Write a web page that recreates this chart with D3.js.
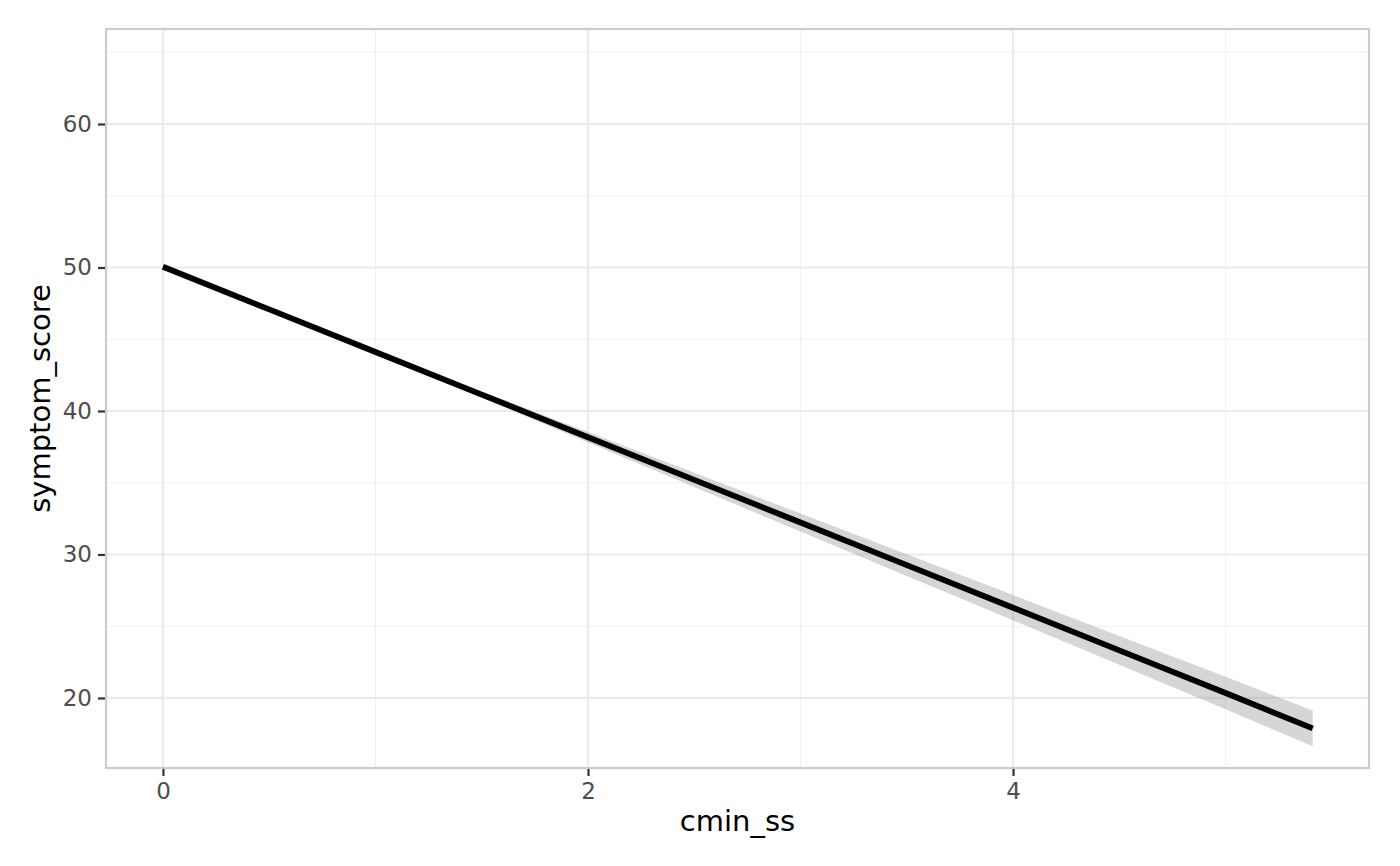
<!DOCTYPE html>
<html>
<head>
<meta charset="utf-8">
<script src="https://cdn.jsdelivr.net/npm/d3@7"></script>
<style>
html,body{margin:0;padding:0;background:#fff;}
svg{display:block;font-family:"DejaVu Sans",sans-serif;}
</style>
</head>
<body>
<svg id="chart" width="1400" height="866"></svg>
<script>
// Data
const cminSS = [0, 0.5, 1, 1.5, 2, 2.5, 3, 3.5, 4, 4.5, 5, 5.41];
const fitScore = [50.05, 47.08, 44.11, 41.14, 38.17, 35.20, 32.23, 29.26, 26.29, 23.32, 20.35, 17.88];
const lowerScore = [49.90, 46.98, 43.99, 40.92, 37.81, 34.70, 31.60, 28.50, 25.41, 22.32, 19.22, 16.63];
const upperScore = [50.20, 47.18, 44.23, 41.36, 38.53, 35.70, 32.86, 30.02, 27.17, 24.32, 21.48, 19.13];
const xTicks = [0, 2, 4];
const xMinor = [1, 3, 5];
const yTicks = [20, 30, 40, 50, 60];
const yMinor = [25, 35, 45, 55, 65];
const xTitle = "cmin_ss";
const yTitle = "symptom_score";

const svg = d3.select("#chart");
const m = {left: 106, right: 1400 - 1369, top: 29, bottom: 866 - 768};
const W = 1400, H = 866;

const x = d3.scaleLinear().domain([-0.268, 5.675]).range([m.left, W - m.right]);
const y = d3.scaleLinear().domain([15.12, 66.62]).range([H - m.bottom, m.top]);

const data = cminSS.map((v, i) => ({x: v, fit: fitScore[i], lo: lowerScore[i], hi: upperScore[i]}));

svg.append("rect").attr("x", m.left).attr("y", m.top)
  .attr("width", W - m.left - m.right).attr("height", H - m.top - m.bottom)
  .attr("fill", "#fff");

const grid = svg.append("g");
grid.selectAll(".ymin").data(yMinor).join("line").attr("class","ymin")
  .attr("x1", m.left).attr("x2", W - m.right)
  .attr("y1", d => y(d)).attr("y2", d => y(d))
  .attr("stroke", "#f0f0f0").attr("stroke-width", 1.2);
grid.selectAll(".xmin").data(xMinor).join("line").attr("class","xmin")
  .attr("y1", m.top).attr("y2", H - m.bottom)
  .attr("x1", d => x(d)).attr("x2", d => x(d))
  .attr("stroke", "#f0f0f0").attr("stroke-width", 1.2);
grid.selectAll(".ymaj").data(yTicks).join("line").attr("class","ymaj")
  .attr("x1", m.left).attr("x2", W - m.right)
  .attr("y1", d => y(d)).attr("y2", d => y(d))
  .attr("stroke", "#ebebeb").attr("stroke-width", 2.2);
grid.selectAll(".xmaj").data(xTicks).join("line").attr("class","xmaj")
  .attr("y1", m.top).attr("y2", H - m.bottom)
  .attr("x1", d => x(d)).attr("x2", d => x(d))
  .attr("stroke", "#ebebeb").attr("stroke-width", 2.2);

svg.append("path").datum(data)
  .attr("d", d3.area().x(d => x(d.x)).y0(d => y(d.lo)).y1(d => y(d.hi)))
  .attr("fill", "#999999").attr("fill-opacity", 0.4);

svg.append("path").datum(data)
  .attr("d", d3.line().x(d => x(d.x)).y(d => y(d.fit)))
  .attr("fill", "none").attr("stroke", "#000").attr("stroke-width", 5.8);

svg.append("rect").attr("x", m.left).attr("y", m.top)
  .attr("width", W - m.left - m.right).attr("height", H - m.top - m.bottom)
  .attr("fill", "none").attr("stroke", "#cccccc").attr("stroke-width", 2.2);

const xAxis = svg.append("g").attr("transform", `translate(0,${H - m.bottom + 1})`)
  .call(d3.axisBottom(x).tickValues(xTicks).tickSize(7).tickPadding(7).tickFormat(d3.format("d")));
const yAxis = svg.append("g").attr("transform", `translate(${m.left - 1},0)`)
  .call(d3.axisLeft(y).tickValues(yTicks).tickSize(7).tickPadding(6).tickFormat(d3.format("d")));
[xAxis, yAxis].forEach(a => {
  a.attr("font-size", 23).attr("font-family", "DejaVu Sans, sans-serif");
  a.select(".domain").remove();
  a.selectAll(".tick line").attr("stroke", "#333333").attr("stroke-width", 2.2);
  a.selectAll(".tick text").attr("fill", "#4d4d4d").attr("font-size", 23).style("font-size", "23px");
});

svg.append("text").attr("x", (m.left + W - m.right) / 2).attr("y", 831)
  .attr("text-anchor", "middle").attr("fill", "#000").style("font-size", "29px").text(xTitle);
svg.append("text").attr("transform", `translate(50,${(m.top + H - m.bottom) / 2}) rotate(-90)`)
  .attr("text-anchor", "middle").attr("fill", "#000").style("font-size", "29px").text(yTitle);
</script>
</body>
</html>
